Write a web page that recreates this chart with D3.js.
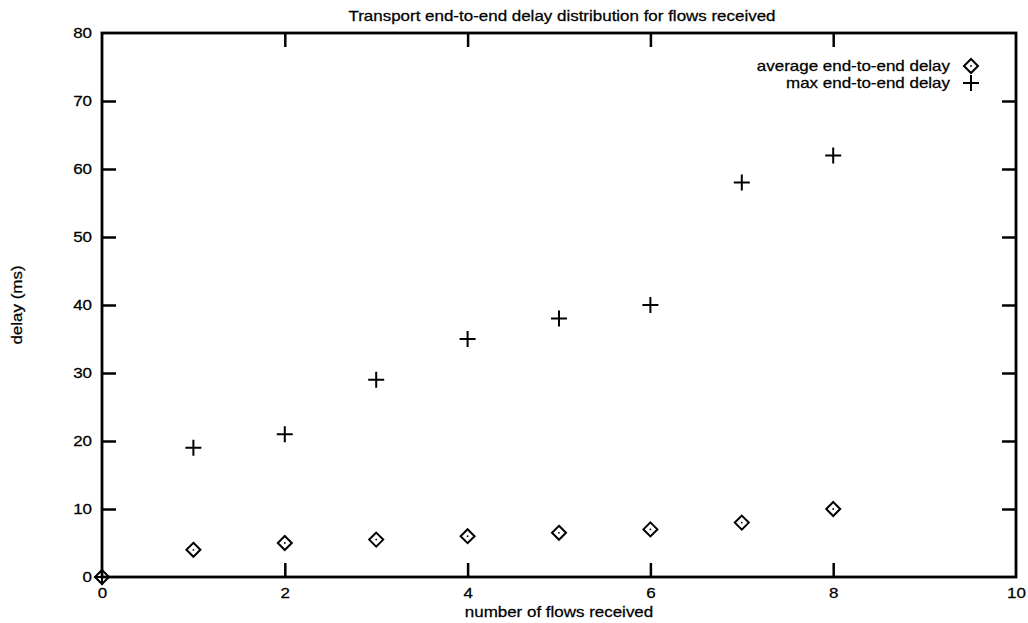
<!DOCTYPE html>
<html>
<head>
<meta charset="utf-8">
<script src="https://cdn.jsdelivr.net/npm/d3@7"></script>
<style>
  body { margin: 0; background: #fff; }
  svg { display: block; font-family: "Liberation Sans", Arial, sans-serif; }
  text { fill: #000; stroke: #000; stroke-width: 0.25; }
</style>
</head>
<body>
<div id="vis"></div>
<script>
// setting constants
const FRAME_WIDTH = 1028;
const FRAME_HEIGHT = 623;
const MARGINS = {left: 102, right: 12, top: 33, bottom: 46};
const FONT = "14.5px";
const STRETCH = 1.17;   // the original lettering is wider than Liberation Sans

// data
const flows = [0, 1, 2, 3, 4, 5, 6, 7, 8];
const avgDelay = [0, 4, 5, 5.5, 6, 6.5, 7, 8, 10];
const maxDelay = [0, 19, 21, 29, 35, 38, 40, 58, 62];
const xTicks = [0, 2, 4, 6, 8, 10];
const yTicks = [0, 10, 20, 30, 40, 50, 60, 70, 80];
const seriesNames = ["average end-to-end delay", "max end-to-end delay"];

const VIS_WIDTH = FRAME_WIDTH - MARGINS.left - MARGINS.right;
const VIS_HEIGHT = FRAME_HEIGHT - MARGINS.top - MARGINS.bottom;

const FRAME = d3.select("#vis")
  .append("svg")
  .attr("width", FRAME_WIDTH)
  .attr("height", FRAME_HEIGHT);

// scales
const X_SCALE = d3.scaleLinear().domain([0, 10]).range([0, VIS_WIDTH]);
const Y_SCALE = d3.scaleLinear().domain([0, 80]).range([VIS_HEIGHT, 0]);

const g = FRAME.append("g")
  .attr("transform", "translate(" + MARGINS.left + "," + MARGINS.top + ")");

// axes with inward ticks on all four sides
const TICK = 14;
function styleAxis(sel, labels) {
  sel.select(".domain").remove();
  sel.selectAll(".tick line").attr("stroke", "#000").attr("stroke-width", 2.5);
  sel.selectAll(".tick text")
    .attr("font-size", FONT)
    .attr("x", function() { return +this.getAttribute("x") / STRETCH; })
    .attr("transform", "scale(" + STRETCH + ",1)")
    .style("display", labels ? null : "none");
}

g.append("g")
  .attr("transform", "translate(0," + VIS_HEIGHT + ")")
  .call(d3.axisBottom(X_SCALE).tickValues(xTicks).tickSizeInner(-TICK).tickSizeOuter(0).tickPadding(11))
  .call(s => styleAxis(s, true))
  .call(s => s.selectAll(".tick line").filter(d => d === 0 || d === 10).remove());

g.append("g")
  .call(d3.axisTop(X_SCALE).tickValues(xTicks.filter(d => d > 0 && d < 10)).tickSizeInner(-TICK).tickSizeOuter(0))
  .call(s => styleAxis(s, false));

g.append("g")
  .call(d3.axisLeft(Y_SCALE).tickValues(yTicks).tickSizeInner(-TICK).tickSizeOuter(0).tickPadding(10))
  .call(s => styleAxis(s, true))
  .call(s => s.selectAll(".tick line").filter(d => d === 0 || d === 80).remove());

g.append("g")
  .attr("transform", "translate(" + VIS_WIDTH + ",0)")
  .call(d3.axisRight(Y_SCALE).tickValues(yTicks.filter(d => d > 0 && d < 80)).tickSizeInner(-TICK).tickSizeOuter(0))
  .call(s => styleAxis(s, false));

// frame border
g.append("rect")
  .attr("x", 0).attr("y", 0)
  .attr("width", VIS_WIDTH).attr("height", VIS_HEIGHT)
  .attr("fill", "none")
  .attr("stroke", "#000")
  .attr("stroke-width", 2.8);

// symbols
const D = 7;   // diamond half-diagonal
const P = 8;   // plus half-size
function diamond(sel) {
  sel.append("path")
    .attr("d", "M0," + (-D) + "L" + D + ",0L0," + D + "L" + (-D) + ",0Z")
    .attr("fill", "none").attr("stroke", "#000").attr("stroke-width", 2);
  sel.append("circle").attr("r", 0.9).attr("fill", "#000");
}
function plus(sel) {
  sel.append("path")
    .attr("d", "M" + (-P) + ",0H" + P + "M0," + (-P) + "V" + P)
    .attr("fill", "none").attr("stroke", "#000").attr("stroke-width", 2);
}

const avgData = flows.map((f, i) => ({x: f, y: avgDelay[i]}));
const maxData = flows.map((f, i) => ({x: f, y: maxDelay[i]}));

g.selectAll(".avg")
  .data(avgData)
  .enter()
  .append("g")
    .attr("class", "avg")
    .attr("transform", d => "translate(" + X_SCALE(d.x) + "," + Y_SCALE(d.y) + ")")
    .call(diamond);

g.selectAll(".max")
  .data(maxData)
  .enter()
  .append("g")
    .attr("class", "max")
    .attr("transform", d => "translate(" + X_SCALE(d.x) + "," + Y_SCALE(d.y) + ")")
    .call(plus);

// stretched text helper
function label(x, y, str, anchor, rot) {
  FRAME.append("text")
    .attr("transform", "translate(" + x + "," + y + ")" + (rot ? " rotate(" + rot + ")" : "") + " scale(" + STRETCH + ",1)")
    .attr("text-anchor", anchor)
    .attr("font-size", FONT)
    .text(str);
}

// legend
seriesNames.forEach((name, i) => {
  label(950, 71 + i * 17, name, "end");
  const sym = FRAME.append("g").attr("transform", "translate(971," + (66 + i * 17) + ")");
  if (i === 0) sym.call(diamond); else sym.call(plus);
});

// title and axis labels
label(562, 21, "Transport end-to-end delay distribution for flows received", "middle");
label(559, 617, "number of flows received", "middle");
label(22, 305, "delay (ms)", "middle", -90);
</script>
</body>
</html>
